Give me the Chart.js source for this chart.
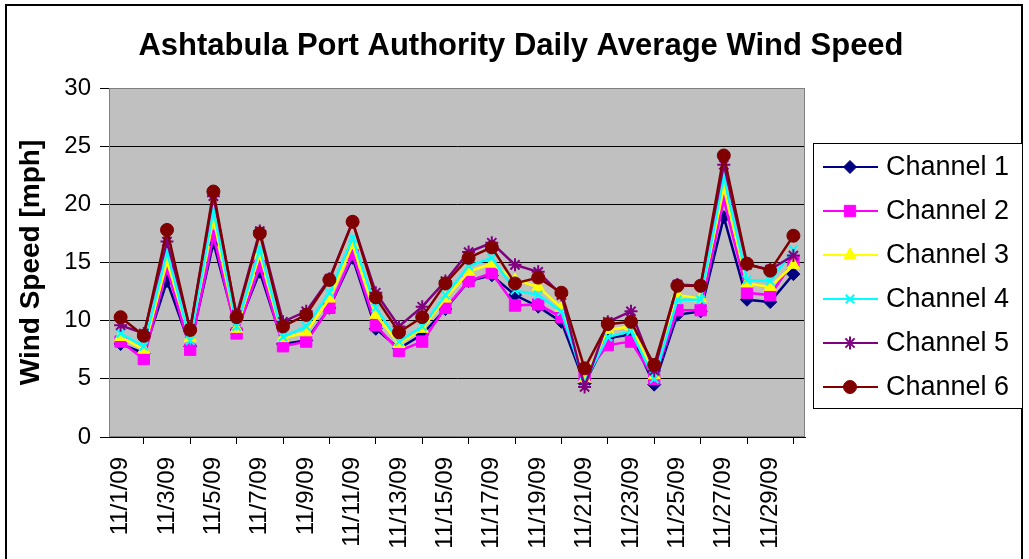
<!DOCTYPE html>
<html>
<head>
<meta charset="utf-8">
<script src="https://cdn.jsdelivr.net/npm/chart.js@4/dist/chart.umd.min.js"></script>
<style>
  html, body { margin: 0; padding: 0; background: #fff; }
  #wrap { width: 1029px; height: 559px; }
</style>
</head>
<body>
<div id="wrap"><canvas id="canvas" width="1029" height="559"></canvas></div>
<script>
// Wind speed per day, one array per channel (mph)
const days = [];
for (let d = 1; d <= 30; d++) days.push("11/" + d + "/09");

const ch1 = [8.0, 7.2, 13.4, 7.8, 16.7, 9.2, 14.2, 8.0, 8.3, 11.1, 15.4, 9.3, 7.6, 8.8, 11.0, 13.4, 13.9, 12.2, 11.2, 9.9, 4.6, 8.5, 8.8, 4.5, 10.5, 10.8, 18.9, 11.8, 11.6, 14.0];
const ch2 = [8.2, 6.7, 14.5, 7.5, 17.3, 8.9, 14.7, 7.8, 8.2, 11.1, 15.7, 9.6, 7.4, 8.2, 11.1, 13.4, 14.1, 11.3, 11.4, 10.3, 5.3, 7.9, 8.2, 5.0, 10.9, 10.9, 20.4, 12.4, 12.2, 15.1];
const ch3 = [8.6, 7.5, 15.1, 8.5, 18.8, 9.3, 15.7, 8.5, 9.0, 11.9, 16.5, 10.5, 8.0, 9.3, 11.9, 14.2, 14.9, 13.5, 12.9, 11.1, 5.0, 9.2, 9.5, 5.3, 12.2, 11.9, 21.4, 13.2, 12.9, 14.8];
const ch4 = [8.9, 7.8, 15.9, 8.3, 19.5, 9.5, 16.2, 8.6, 9.5, 12.4, 17.1, 11.1, 8.2, 9.5, 12.2, 14.7, 15.4, 12.6, 12.2, 10.8, 4.7, 8.6, 9.1, 5.0, 11.8, 11.8, 22.4, 13.5, 13.4, 16.1];
const ch5 = [9.6, 8.9, 16.8, 9.3, 20.7, 10.5, 17.7, 9.9, 10.8, 13.6, 18.5, 12.4, 9.5, 11.2, 13.4, 15.9, 16.7, 14.8, 14.2, 12.2, 4.3, 9.9, 10.8, 5.7, 13.1, 13.0, 23.4, 14.8, 14.4, 15.6];
const ch6 = [10.3, 8.7, 17.8, 9.2, 21.1, 10.3, 17.5, 9.5, 10.5, 13.5, 18.5, 12.0, 9.0, 10.3, 13.2, 15.4, 16.3, 13.2, 13.7, 12.4, 5.9, 9.7, 9.9, 6.2, 13.0, 13.0, 24.2, 14.9, 14.3, 17.3];

const seriesNames = ["Channel 1", "Channel 2", "Channel 3", "Channel 4", "Channel 5", "Channel 6"];
const seriesValues = [ch1, ch2, ch3, ch4, ch5, ch6];
const colors = ["#000080", "#FF00FF", "#FFFF00", "#00FFFF", "#800080", "#800000"];
const markers = ["rectRot", "rect", "triangle", "crossRot", "star", "circle"];
const radii = [6.5, 8, 7, 6, 6.5, 6.5];

const chartTitle = "Ashtabula Port Authority Daily Average Wind Speed";
const FONT = "'Liberation Sans', Arial, sans-serif";

function makeDataset(i) {
  return {
    label: seriesNames[i],
    data: seriesValues[i],
    borderColor: colors[i],
    backgroundColor: colors[i],
    borderWidth: 2.5,
    pointStyle: markers[i],
    pointRadius: radii[i],
    pointBorderColor: colors[i],
    pointBackgroundColor: colors[i],
    pointBorderWidth: (markers[i] === "crossRot" || markers[i] === "star") ? 2 : 1,
    tension: 0,
    fill: false,
    order: 6 - i
  };
}

// gray plot area, outer frame and the title
const frame = {
  id: "frame",
  beforeDraw(chart) {
    const { ctx, chartArea: a } = chart;
    ctx.save();
    ctx.fillStyle = "#C0C0C0";
    ctx.fillRect(a.left, a.top, a.right - a.left, a.bottom - a.top);
    ctx.restore();
  },
  afterDraw(chart) {
    const { ctx, chartArea: a } = chart;
    ctx.save();
    ctx.strokeStyle = "#808080";
    ctx.lineWidth = 1;
    ctx.strokeRect(a.left + 0.5, a.top + 0.5, a.right - a.left - 1, a.bottom - a.top - 1);
    ctx.strokeStyle = "#000";
    ctx.lineWidth = 2;
    ctx.strokeRect(6, 5, 1016, 600);
    ctx.fillStyle = "#000";
    ctx.font = "bold 31px " + FONT;
    ctx.textAlign = "center";
    ctx.textBaseline = "alphabetic";
    ctx.fillText(chartTitle, 521, 55);
    ctx.restore();
  }
};

// legend box with line + marker, drawn beside the plot
const sideLegend = {
  id: "sideLegend",
  afterDraw(chart) {
    const ctx = chart.ctx;
    const box = { x: 813, y: 143, w: 209, h: 265 };
    ctx.save();
    ctx.fillStyle = "#fff";
    ctx.fillRect(box.x, box.y, box.w, box.h);
    ctx.strokeStyle = "#000";
    ctx.lineWidth = 1;
    ctx.strokeRect(box.x + 0.5, box.y + 0.5, box.w, box.h);
    chart.data.datasets.forEach((ds, i) => {
      const y = 167 + i * 44;
      ctx.strokeStyle = ds.borderColor;
      ctx.lineWidth = 2;
      ctx.beginPath();
      ctx.moveTo(823, y);
      ctx.lineTo(878, y);
      ctx.stroke();
      ctx.fillStyle = ds.pointBackgroundColor;
      ctx.strokeStyle = ds.pointBorderColor;
      ctx.lineWidth = ds.pointBorderWidth;
      Chart.helpers.drawPoint(ctx, {
        pointStyle: ds.pointStyle,
        radius: ds.pointRadius,
        rotation: 0,
        borderWidth: ds.pointBorderWidth
      }, 850, y);
      ctx.fillStyle = "#000";
      ctx.font = "27px " + FONT;
      ctx.textBaseline = "middle";
      ctx.textAlign = "left";
      ctx.fillText(ds.label, 886, y + 1);
    });
    ctx.restore();
  }
};

const ctx = document.getElementById("canvas").getContext("2d");
const chart = new Chart(ctx, {
  type: "line",
  data: {
    labels: days,
    datasets: seriesValues.map((v, i) => makeDataset(i))
  },
  options: {
    responsive: false,
    animation: false,
    devicePixelRatio: 1,
    layout: { padding: { left: 0, right: 224, top: 88, bottom: 0 } },
    plugins: {
      legend: { display: false },
      tooltip: { enabled: false },
      title: { display: false }
    },
    scales: {
      x: {
        type: "category",
        offset: true,
        grid: {
          offset: true,
          drawOnChartArea: false,
          drawTicks: true,
          tickLength: 7,
          color: "#000"
        },
        border: { display: true, color: "#000", width: 1 },
        ticks: {
          autoSkip: false,
          maxRotation: 90,
          minRotation: 90,
          padding: 13,
          color: "#000",
          font: { family: FONT, size: 24 },
          callback: function (value, index) {
            return index % 2 === 0 ? this.getLabelForValue(value) : null;
          }
        },
        afterFit(scale) { scale.height = 122; }
      },
      y: {
        min: 0,
        max: 30,
        ticks: {
          stepSize: 5,
          padding: 9,
          color: "#000",
          font: { family: FONT, size: 24 }
        },
        grid: {
          color: "#000",
          lineWidth: 1,
          drawTicks: true,
          tickLength: 9
        },
        border: { display: true, color: "#000", width: 1 },
        title: {
          display: true,
          text: "Wind Speed [mph]",
          color: "#000",
          font: { family: FONT, size: 28, weight: "bold" },
          padding: { top: 14, bottom: 0 }
        },
        afterFit(scale) { scale.width = 109; }
      }
    }
  },
  plugins: [frame, sideLegend]
});
</script>
</body>
</html>
